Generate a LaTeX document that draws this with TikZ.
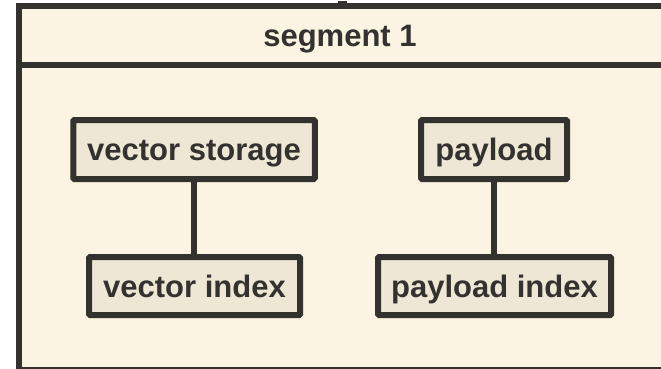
\documentclass[tikz,border=0pt]{standalone}
\usepackage{fontspec}
\setmainfont{Liberation Sans}
\definecolor{panelfill}{HTML}{FCF4E2}
\definecolor{boxfill}{HTML}{EEE7D6}
\definecolor{ink}{HTML}{33322E}
\tikzset{
  frame/.style={draw=ink, line width=6pt, fill=panelfill},
  labelfont/.style={text=ink, font=\fontsize{31}{36}\selectfont\bfseries},
  part/.style={draw=ink, line width=6pt, fill=boxfill, rounded corners=1pt,
    labelfont, inner sep=0pt, text height=29pt, text depth=7pt,
    minimum height=59pt},
  link/.style={draw=ink, line width=6pt}
}
\begin{document}
\begin{tikzpicture}[x=1pt, y=-1pt]
  \clip (0,0) rectangle (661,369);
  % segment frame with its header band
  \draw[frame] (18.5,6) rectangle (664,370);
  \fill[ink] (338,1.5) rectangle (347,4);
  \coordinate (divL) at (18.5,65.5);
  \coordinate (divR) at (664,65.5);
  \draw[link] (divL) -- (divR);
  \node[labelfont, anchor=base, inner sep=0pt] (title) at (340,47) {segment 1};
  % storage parts
  \node[part, minimum width=241.5pt] (vstore) at (194,149.5) {vector storage};
  \node[part, minimum width=146pt] (pload) at (494,149.5) {payload};
  \node[part, minimum width=211pt, minimum height=58pt] (vindex) at (194.5,286) {vector index};
  \node[part, minimum width=233pt, minimum height=58pt] (pindex) at (494.5,286) {payload index};
  % links between each part and its index
  \draw[link] (vstore.south) -- (vstore.south |- vindex.north);
  \draw[link] (pload.south) -- (pload.south |- pindex.north);
  \useasboundingbox (0,0) rectangle (661,369);
\end{tikzpicture}
\end{document}
